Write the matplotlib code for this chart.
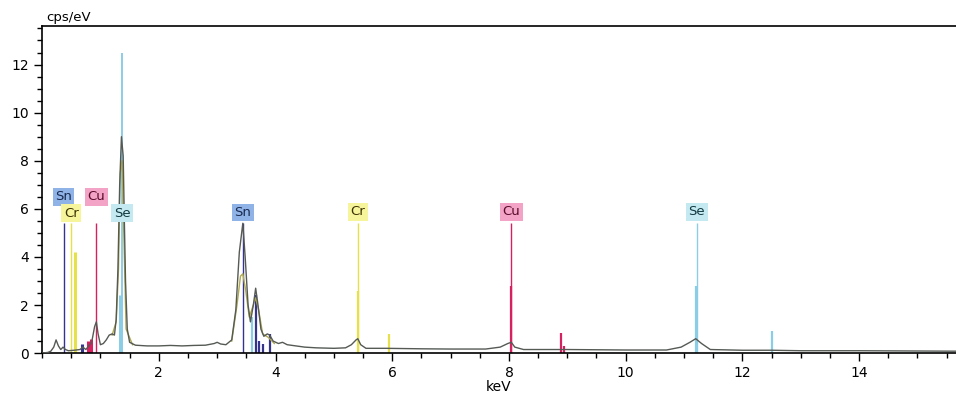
import matplotlib
matplotlib.use("Agg")
import matplotlib.pyplot as plt
from matplotlib.ticker import MultipleLocator

spec_kev = [0.00, 0.10, 0.15, 0.20, 0.24, 0.28, 0.32, 0.36, 0.40, 0.45, 0.55, 0.65,
            0.70, 0.75, 0.80, 0.85, 0.90, 0.93, 0.96, 1.00, 1.05, 1.10, 1.15, 1.20,
            1.24, 1.27, 1.30, 1.33, 1.36, 1.39, 1.41, 1.43, 1.46, 1.50, 1.60, 1.80,
            2.00, 2.20, 2.40, 2.60, 2.80, 2.95, 3.00, 3.06, 3.15, 3.25, 3.32, 3.38,
            3.44, 3.48, 3.53, 3.57, 3.62, 3.66, 3.70, 3.75, 3.80, 3.86, 3.90, 3.96,
            4.05, 4.12, 4.20, 4.35, 4.50, 4.70, 5.00, 5.20, 5.30, 5.38, 5.41, 5.46,
            5.55, 5.90, 6.50, 7.00, 7.60, 7.85, 7.98, 8.04, 8.10, 8.25, 9.00, 10.00,
            10.70, 10.95, 11.10, 11.20, 11.30, 11.45, 12.00, 12.50, 13.00, 14.00, 15.70]
spec_cps = [0.00, 0.03, 0.08, 0.25, 0.55, 0.30, 0.15, 0.25, 0.15, 0.10, 0.12, 0.15,
            0.25, 0.15, 0.30, 0.45, 1.10, 1.30, 0.80, 0.35, 0.40, 0.55, 0.75, 0.80,
            0.75, 1.40, 3.50, 7.00, 9.00, 8.20, 5.50, 3.00, 1.00, 0.45, 0.33, 0.30,
            0.30, 0.32, 0.30, 0.32, 0.33, 0.40, 0.45, 0.38, 0.35, 0.55, 1.80, 4.20,
            5.40, 4.00, 2.00, 1.30, 2.00, 2.70, 2.00, 1.00, 0.70, 0.80, 0.75, 0.50,
            0.40, 0.45, 0.35, 0.30, 0.25, 0.22, 0.20, 0.22, 0.35, 0.55, 0.60, 0.35,
            0.20, 0.20, 0.18, 0.17, 0.17, 0.25, 0.40, 0.45, 0.25, 0.15, 0.15, 0.13,
            0.13, 0.25, 0.45, 0.60, 0.40, 0.15, 0.12, 0.12, 0.10, 0.10, 0.08]

# fitted overlay around the Se L and Sn L peaks
fit_se_kev = [1.20, 1.27, 1.31, 1.34, 1.37, 1.40, 1.44, 1.55]
fit_se_cps = [0.75, 1.30, 3.50, 7.50, 8.00, 5.00, 1.00, 0.35]
fit_sn_kev = [3.25, 3.34, 3.40, 3.44, 3.49, 3.55, 3.62, 3.66, 3.71, 3.78, 3.88, 3.98]
fit_sn_cps = [0.50, 2.00, 3.20, 3.30, 2.60, 1.50, 2.00, 2.30, 1.80, 0.80, 0.65, 0.40]

# element lines
line_kev = [0.37, 0.50, 0.57, 0.93, 1.37, 1.33, 0.68, 0.78, 0.84,
            3.44, 3.60, 3.66, 3.72, 3.78, 3.90, 5.41, 5.41, 5.95,
            8.04, 8.04, 8.90, 8.95, 11.22, 11.20, 12.50]
line_cps = [5.40, 5.40, 4.20, 5.40, 12.50, 2.40, 0.40, 0.50, 0.60,
            5.40, 1.50, 2.40, 0.50, 0.40, 0.80, 5.40, 2.60, 0.80,
            5.40, 2.80, 0.85, 0.30, 5.40, 2.80, 0.90]
line_el = ["Sn", "Cr", "Cr", "Cu", "Se", "Se", "Sn", "Cu", "Cu",
           "Sn", "Se", "Sn", "Sn", "Sn", "Sn", "Cr", "Cr", "Cr",
           "Cu", "Cu", "Cu", "Cu", "Se", "Se", "Se"]

# element labels
lab_text = ["Sn", "Cu", "Cr", "Se", "Sn", "Cr", "Cu", "Se"]
lab_kev = [0.37, 0.93, 0.50, 1.37, 3.44, 5.41, 8.04, 11.22]
lab_cps = [6.50, 6.50, 5.82, 5.82, 5.85, 5.88, 5.88, 5.88]

line_col = {"Sn": "#34348f", "Cr": "#e6e04a", "Cu": "#d62060", "Se": "#8ccde6"}
box_col = {"Sn": "#8fb3e6", "Cr": "#f7f59c", "Cu": "#f2a3c6", "Se": "#c4e9f0"}
txt_col = {"Sn": "#1a2a50", "Cr": "#3a3000", "Cu": "#5a0a2a", "Se": "#123a40"}

fig = plt.figure(figsize=(9.56, 3.95), dpi=100)
ax = fig.add_axes([0.044, 0.106, 0.956, 0.828])

for k, h, e in zip(line_kev, line_cps, line_el):
    if h == 5.4:
        lw = 1.0
    elif h > 10:
        lw = 1.4
    elif k < 1.5:
        lw = 2.2
    else:
        lw = 1.6
    ax.vlines(k, 0, h, colors=line_col[e], linewidth=lw, zorder=2)

ax.plot(fit_se_kev, fit_se_cps, color="#b0aa50", linewidth=1.0, zorder=3)
ax.plot(fit_sn_kev, fit_sn_cps, color="#b0aa50", linewidth=1.0, zorder=3)
ax.plot(spec_kev, spec_cps, color="#555a55", linewidth=1.0, zorder=4)

for t, k, v in zip(lab_text, lab_kev, lab_cps):
    ax.text(k, v, t, ha="center", va="center", fontsize=9.5, color=txt_col[t],
            bbox=dict(boxstyle="square,pad=0.18", fc=box_col[t], ec="none"), zorder=5)

ax.set_xlim(0, 15.66)
ax.set_ylim(0, 13.6)
ax.xaxis.set_minor_locator(MultipleLocator(0.5))
ax.yaxis.set_minor_locator(MultipleLocator(0.5))
ax.set_xticks([2, 4, 6, 8, 10, 12, 14])
ax.set_yticks([0, 2, 4, 6, 8, 10, 12])
ax.tick_params(which="major", length=6, width=1, labelsize=10, direction="out")
ax.tick_params(which="minor", length=3.5, width=1, direction="out")
ax.spines["right"].set_visible(False)
for s in ["left", "bottom", "top"]:
    ax.spines[s].set_linewidth(1.2)
ax.set_xlabel("keV", fontsize=10, labelpad=0)
ax.text(0.005, 1.005, "cps/eV", transform=ax.transAxes, fontsize=9.5, ha="left", va="bottom")

fig.savefig("out.png", dpi=100)
